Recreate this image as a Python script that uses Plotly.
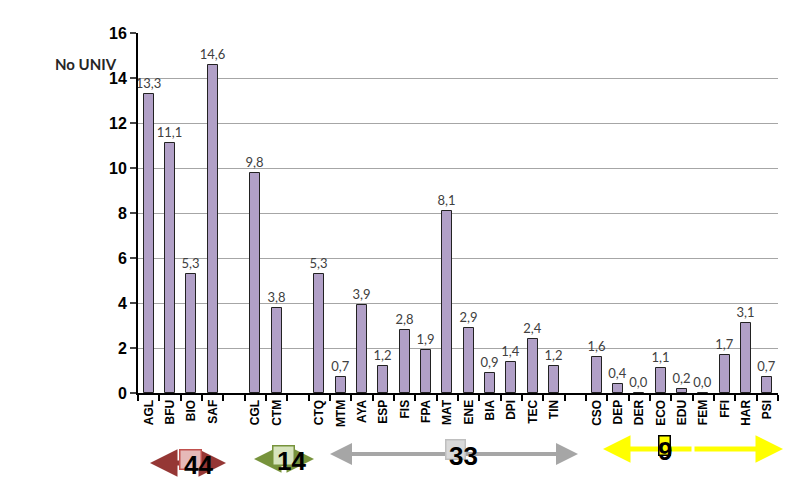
import plotly.graph_objects as go

# categories per group (empty slots separate the groups)
group44 = ["AGL", "BFU", "BIO", "SAF"]
vals44 = [13.3, 11.1, 5.3, 14.6]
group14 = ["CGL", "CTM"]
vals14 = [9.8, 3.8]
group33 = ["CTQ", "MTM", "AYA", "ESP", "FIS", "FPA", "MAT", "ENE", "BIA", "DPI", "TEC", "TIN"]
vals33 = [5.3, 0.7, 3.9, 1.2, 2.8, 1.9, 8.1, 2.9, 0.9, 1.4, 2.4, 1.2]
group9 = ["CSO", "DEP", "DER", "ECO", "EDU", "FEM", "FFI", "HAR", "PSI"]
vals9 = [1.6, 0.4, 0.0, 1.1, 0.2, 0.0, 1.7, 3.1, 0.7]
group_totals = ["44", "14", "33", "9"]
y_ticks = [0, 2, 4, 6, 8, 10, 12, 14, 16]

groups = [(group44, vals44), (group14, vals14), (group33, vals33), (group9, vals9)]
xs, cats, vals = [], [], []
pos = 0
for names, vs in groups:
    for n, v in zip(names, vs):
        xs.append(pos); cats.append(n); vals.append(v)
        pos += 1
    pos += 1  # empty slot
nslots = pos - 1

labels = [f"{v:.1f}".replace(".", ",") for v in vals]

fig = go.Figure(go.Bar(
    x=xs, y=vals, width=0.47,
    marker=dict(color="#b1a0c7", line=dict(color="#222222", width=1)),
    text=labels, textposition="outside", cliponaxis=False, constraintext="none",
    textfont=dict(family="Lato", size=13, color="#404040"),
))

fig.update_layout(
    width=792, height=484,
    margin=dict(l=130, r=22, t=25, b=99),
    plot_bgcolor="white", paper_bgcolor="white",
    showlegend=False, bargap=0,
)
fig.update_xaxes(
    range=[-0.5, nslots - 0.5], tickmode="array", tickvals=xs, ticktext=cats,
    tickangle=-90, tickfont=dict(family="Liberation Sans", size=12, color="black", weight="bold"),
    showline=True, linecolor="black", linewidth=2, ticks="", showgrid=False, zeroline=False,
    minor=dict(ticks="outside", tick0=-0.5, dtick=1, ticklen=6, tickcolor="black", tickwidth=1.5, showgrid=False),
)
fig.update_yaxes(
    range=[0, 16], tickmode="array", tickvals=y_ticks,
    tickfont=dict(family="Liberation Sans", size=16, color="black", weight="bold"),
    showline=True, linecolor="black", linewidth=2, ticks="outside", ticklen=6, tickwidth=1.5,
    showgrid=True, gridcolor="#a6a6a6", gridwidth=1, zeroline=False,
)

fig.add_annotation(xref="paper", yref="paper", x=-0.03, y=0.945, text="<b>No UNIV</b>",
                   showarrow=False, xanchor="right", font=dict(family="Lato", size=15, color="#262626"))

def py(p):
    return (385 - p) / 360.0

def sx(p):
    return (p - 130) / (640 / nslots) - 0.5

# (left end px, right end px, arrow colour, box fill, box line, text centre x px, text centre y px, box width px)
specs = [
    (142, 218, "#953735", "#e6b9b8", "#c0504d", 190, 457, 20),
    (246, 306, "#77933c", "#d7e4bd", "#77933c", 283, 453, 20),
    (322, 570, "#a6a6a6", "#d9d9d9", "#bfbfbf", 455, 448, 18),
    (595, 775, "#ffff00", "#ffff00", "#000000", 657, 443, 10),
]
for (a, b, col, fill, lcol, tx, ty, bw), tot in zip(specs, group_totals):
    mid = (a + b) / 2
    for end in (a, b):
        fig.add_annotation(xref="x", yref="paper", axref="x", ayref="pixel",
                           x=sx(end), y=py(ty - 2), ax=sx(mid), ay=0, text="", showarrow=True,
                           arrowhead=2, arrowsize=1.1,
                           arrowwidth=5 if col != "#a6a6a6" else 4,
                           arrowcolor=col, standoff=0)
    bcx = tx - (8 if tot != "9" else 1)
    bcy = ty - 6
    fig.add_annotation(xref="x", yref="paper", x=sx(bcx), y=py(bcy), yanchor="middle",
                       text=" ", showarrow=False, width=bw, height=18,
                       bgcolor=fill, bordercolor=lcol, borderwidth=1.5, borderpad=0,
                       font=dict(size=10))
    fig.add_annotation(xref="x", yref="paper", x=sx(tx), y=py(ty), yanchor="middle",
                       text=f"<b>{tot}</b>", showarrow=False,
                       font=dict(family="Liberation Sans", size=26, color="black"))

fig.write_html("out.html")
